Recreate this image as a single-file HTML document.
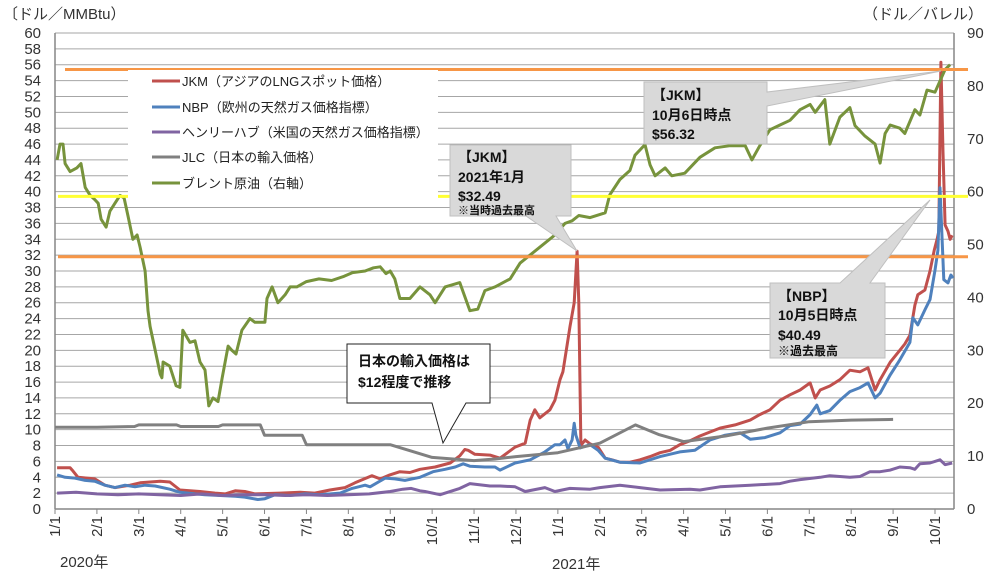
<!DOCTYPE html>
<html><head><meta charset="utf-8">
<style>
body{margin:0;background:#fff;}
svg{display:block;font-family:"Liberation Sans","Noto Sans CJK JP",sans-serif;}
</style></head>
<body>
<svg id="chart" width="995" height="574" viewBox="0 0 995 574">
<g id="grid"></g>
<g id="axes"></g>
<g id="series"></g>
<g id="overlay"></g>
</svg>
<script>
// ---- data (x in months since 2020-01-01) ----
const monthLabels = ["1/1","2/1","3/1","4/1","5/1","6/1","7/1","8/1","9/1","10/1","11/1","12/1","1/1","2/1","3/1","4/1","5/1","6/1","7/1","8/1","9/1","10/1"];
const leftTicks = [0,2,4,6,8,10,12,14,16,18,20,22,24,26,28,30,32,34,36,38,40,42,44,46,48,50,52,54,56,58,60];
const rightTicks = [0,10,20,30,40,50,60,70,80,90];

const jkmX = [0.05,0.36,0.41,0.55,0.95,1.19,1.43,1.79,2.03,2.51,2.74,2.98,3.46,3.82,4.06,4.30,4.53,4.77,5.37,5.85,6.20,6.56,6.92,7.16,7.56,7.76,7.99,8.23,8.47,8.71,9.07,9.43,9.66,9.78,9.86,10.02,10.38,10.62,10.98,11.22,11.34,11.45,11.57,11.81,11.93,12.05,12.12,12.24,12.29,12.39,12.46,12.50,12.55,12.65,12.77,12.96,13.13,13.29,13.48,13.72,13.96,14.20,14.44,14.68,14.91,15.15,15.39,15.63,15.87,16.23,16.59,16.82,17.06,17.30,17.54,17.78,18.02,18.14,18.26,18.49,18.73,18.97,19.21,19.40,19.57,19.69,19.93,20.16,20.28,20.40,20.52,20.59,20.76,20.88,20.98,21.05,21.09,21.14,21.19,21.24,21.31,21.36,21.41];
const jkmVals = [5.2,5.2,4.9,4.0,3.8,3.0,2.7,3.0,3.3,3.5,3.4,2.4,2.2,2.0,1.9,2.3,2.2,1.9,2.0,2.1,2.0,2.4,2.7,3.3,4.2,3.8,4.3,4.7,4.6,5.0,5.3,5.8,6.7,7.5,7.4,6.9,6.8,6.4,7.8,8.3,11.2,12.5,11.5,12.5,13.7,16.3,17.3,21.3,23,26,32.49,26,8.0,8.7,8.2,7.8,6.4,6.2,5.9,5.9,6.2,6.6,7.1,7.4,8.1,8.6,9.2,9.7,10.2,10.6,11.2,11.9,12.5,13.7,14.4,15.0,15.9,14.0,15.0,15.5,16.3,17.5,17.3,17.8,15.0,16.3,18.5,20.0,20.8,21.9,25.7,27.0,27.6,30.0,32.6,34.0,35.0,56.32,45.0,35.8,35.0,34.0,34.5];

const nbpX = [0.05,0.24,0.48,0.72,0.95,1.19,1.43,1.67,1.91,2.15,2.39,2.74,2.98,3.34,3.58,3.94,4.30,4.53,4.84,5.01,5.25,5.61,5.97,6.32,6.80,7.09,7.40,7.52,7.88,8.11,8.35,8.71,9.02,9.31,9.55,9.74,9.90,10.26,10.50,10.62,10.98,11.34,11.69,11.93,12.05,12.17,12.24,12.34,12.39,12.43,12.53,12.77,12.96,13.13,13.48,13.96,14.44,14.91,15.27,15.63,15.99,16.35,16.59,16.94,17.30,17.54,17.78,18.02,18.18,18.26,18.49,18.73,18.97,19.21,19.40,19.57,19.69,19.93,20.16,20.40,20.47,20.59,20.76,20.88,21.0,21.07,21.12,21.17,21.21,21.31,21.38,21.43];
const nbpVals = [4.3,4.0,3.9,3.6,3.5,3.0,2.7,3.0,2.8,3.0,2.9,2.5,2.1,1.9,1.8,1.7,1.6,1.5,1.2,1.3,1.8,1.7,1.9,1.8,2.0,2.6,3.0,2.8,3.9,3.8,3.6,4.0,4.7,5.0,5.3,5.7,5.4,5.3,5.3,4.9,5.8,6.2,7.2,8.1,8.1,8.7,7.6,8.7,10.8,9.3,7.7,8.1,7.4,6.4,5.9,5.8,6.6,7.2,7.4,8.7,9.3,9.6,8.8,9.0,9.6,10.5,10.7,11.9,13.1,12.0,12.4,13.7,14.8,15.3,15.9,14.0,14.6,16.9,18.8,21.0,24.1,23.2,25.1,26.4,30.1,32.6,40.49,34.0,28.9,28.5,29.5,29.1];

const hhX = [0.05,0.5,1.0,1.5,2.0,2.5,3.0,3.5,4.0,4.5,5.0,5.5,6.0,6.5,7.0,7.5,8.0,8.3,8.5,8.71,8.83,9.19,9.66,9.90,10.38,10.62,10.98,11.22,11.69,11.93,12.29,12.77,13.0,13.48,13.96,14.44,15.15,15.39,15.87,16.59,17.30,17.54,17.78,18.26,18.49,18.97,19.21,19.45,19.69,19.93,20.16,20.40,20.52,20.64,20.88,21.12,21.24,21.41];
const hhVals = [2.0,2.1,1.9,1.8,1.9,1.8,1.7,1.9,1.7,1.8,1.8,1.7,1.8,1.7,1.8,1.9,2.2,2.5,2.6,2.3,2.2,1.8,2.6,3.2,2.9,2.9,2.8,2.2,2.7,2.2,2.6,2.5,2.7,3.0,2.7,2.4,2.5,2.4,2.8,3.0,3.2,3.5,3.7,4.0,4.2,4.0,4.1,4.7,4.7,4.9,5.3,5.2,5.0,5.7,5.8,6.2,5.6,5.8];

const jlcX = [0,1.0,1.9,2.0,2.9,3.0,3.9,4.0,4.9,5.0,5.9,6.0,6.9,7.0,7.5,8.0,8.5,9.0,9.5,10.0,10.5,11.0,12.0,13.0,13.85,14.4,15.0,16.0,17.0,18.0,19.0,20.0];
const jlcVals = [10.3,10.3,10.4,10.6,10.6,10.4,10.4,10.6,10.6,9.3,9.3,8.1,8.1,8.1,8.1,8.1,7.3,6.5,6.3,6.1,6.3,6.6,7.1,8.3,10.6,9.4,8.5,9.2,10.2,11.0,11.2,11.3];

const brentX = [0.05,0.12,0.19,0.24,0.36,0.52,0.62,0.72,0.84,0.95,1.03,1.10,1.22,1.31,1.43,1.55,1.65,1.74,1.86,1.96,2.03,2.15,2.22,2.27,2.39,2.51,2.55,2.58,2.74,2.89,2.98,3.05,3.22,3.34,3.46,3.58,3.67,3.77,3.89,3.99,4.13,4.22,4.32,4.46,4.65,4.77,4.84,5.01,5.06,5.18,5.32,5.49,5.61,5.77,6.0,6.3,6.6,6.9,7.1,7.4,7.6,7.76,7.9,8.0,8.11,8.23,8.47,8.71,8.95,9.07,9.31,9.66,9.90,10.09,10.26,10.50,10.86,11.10,11.57,11.93,12.17,12.34,12.5,12.77,13.13,13.24,13.48,13.72,13.84,14.08,14.20,14.32,14.56,14.72,15.03,15.39,15.75,16.11,16.47,16.63,16.82,17.06,17.30,17.54,17.78,18.02,18.14,18.37,18.49,18.73,18.97,19.09,19.33,19.57,19.69,19.81,19.93,20.16,20.28,20.52,20.64,20.81,21.0,21.24,21.36];
const brentVals = [66,69,69,65.3,63.8,64.5,65.3,60.8,59.3,58.5,57.8,54.8,53.3,56.3,57.8,59.3,58.8,55.5,51,51.8,49.5,45,37.5,34.5,30,25.5,24.8,27.8,27,23.3,23,33.8,31.5,31.8,27.8,26.3,19.5,21,20.3,24.8,30.8,30,29.3,33.8,36,35.3,35.3,35.3,39.8,42,39,40.5,42,42,43,43.5,43.2,44,44.7,45,45.6,45.8,44.5,45,43.5,39.8,39.8,42,40.5,39,42,42.8,37.5,37.8,41.3,42,43.5,46.5,49.5,51.8,54,54.5,55.5,55.1,56,59.4,62.3,64,66.9,68.9,65.1,63,64.5,63,63.5,66.5,68.3,68.7,68.7,66,68.7,71.7,72.6,73.5,75.5,76.5,75,77.4,69,74.1,75.9,72.5,70.5,69,65.4,71,72.6,72,71,75.5,74.5,79.2,78.8,83.1,84];

const refLevels = [55.4, 39.4, 31.8];

// ---- axes functions ----
const X0=55, X1=954, Y0=509, Y1=33, MW=880/21;
const xs = m => X0 + m*MW;
const yL = v => Y0 - v*(Y0-Y1)/60;
const yR = v => Y0 - v*(Y0-Y1)/90;
const NS="http://www.w3.org/2000/svg";
function mk(tag, attrs, parent){const e=document.createElementNS(NS,tag);for(const k in attrs)e.setAttribute(k,attrs[k]);parent.appendChild(e);return e;}

const grid=document.getElementById('grid'), axes=document.getElementById('axes'), ser=document.getElementById('series'), ov=document.getElementById('overlay');

leftTicks.forEach(v=>{
  const l=mk('line',{x1:X0,x2:X1,y1:yL(v),y2:yL(v),stroke:'#a6a6a6','stroke-width':1},grid);
  
  
  const t=mk('text',{x:41,y:yL(v)+5,'text-anchor':'end','font-size':15,fill:'#333'},axes);
  t.textContent=v;
  
  
});
rightTicks.forEach(v=>{
  const t=mk('text',{x:967,y:yR(v)+5,'font-size':15,fill:'#333'},axes);
  t.textContent=v;
  
  
});
mk('line',{x1:X0,x2:X0,y1:Y1,y2:Y0,stroke:'#868686','stroke-width':1.5},axes);
mk('line',{x1:X1,x2:X1,y1:Y1,y2:Y0,stroke:'#868686','stroke-width':1.5},axes);
mk('line',{x1:X0,x2:X1,y1:Y0,y2:Y0,stroke:'#868686','stroke-width':1.5},axes);
monthLabels.forEach((s,i)=>{
  const x=xs(i);
  mk('line',{x1:x,x2:x,y1:Y0,y2:Y0+5,stroke:'#868686','stroke-width':1},axes);
  const t=mk('text',{x:0,y:0,'font-size':15,fill:'#333','text-anchor':'end',transform:`translate(${x+5},${516}) rotate(-90)`},axes);
  t.textContent=s;
  
  
});

function line(xa,va,yf,color,name,w){
  const d=xa.map((m,i)=>(i?'L':'M')+xs(m).toFixed(1)+','+yf(va[i]).toFixed(1)).join('');
  const p=mk('path',{d:d,fill:'none',stroke:color,'stroke-width':w||3,'stroke-linejoin':'round'},ser);
  
  
}
line(jkmX,jkmVals,yL,'#c0504d','jkm-line');
line(nbpX,nbpVals,yL,'#4f81bd','nbp-line');
line(hhX,hhVals,yL,'#8064a2','henry-hub-line');
line(jlcX,jlcVals,yL,'#808080','jlc-line');
line(brentX,brentVals,yR,'#77933c','brent-line');

const refColors=['#f79646','#ffff33','#f79646'];
const refStart=[65,58,58];
refLevels.forEach((v,i)=>{
  const l=mk('line',{x1:refStart[i],x2:968,y1:yL(v),y2:yL(v),stroke:refColors[i],'stroke-width':3},ov);
  
  
});
</script>
<svg width="995" height="574" style="position:absolute;left:0;top:0;font-family:'Liberation Sans','Noto Sans CJK JP',sans-serif">
  <text x="3" y="19" font-size="15" fill="#333">〔ドル／MMBtu）</text>
  <text x="863" y="19" font-size="15" fill="#333">（ドル／バレル）</text>
  <text x="60" y="567" font-size="15" fill="#333">2020年</text>
  <text x="552" y="569" font-size="15" fill="#333">2021年</text>
  <g>
    <rect x="128" y="70" width="310" height="130" fill="#fff"/>
    <g font-size="13" fill="#222">
      <line x1="152" y1="81" x2="180" y2="81" stroke="#c0504d" stroke-width="3"/><text x="182" y="86">JKM（アジアのLNGスポット価格）</text>
      <line x1="152" y1="107" x2="180" y2="107" stroke="#4f81bd" stroke-width="3"/><text x="182" y="112">NBP（欧州の天然ガス価格指標）</text>
      <line x1="152" y1="132" x2="180" y2="132" stroke="#8064a2" stroke-width="3"/><text x="182" y="137">ヘンリーハブ（米国の天然ガス価格指標）</text>
      <line x1="152" y1="157" x2="180" y2="157" stroke="#808080" stroke-width="3"/><text x="182" y="162">JLC（日本の輸入価格）</text>
      <line x1="152" y1="183" x2="180" y2="183" stroke="#77933c" stroke-width="3"/><text x="182" y="188">ブレント原油（右軸）</text>
    </g>
  </g>
  <g>
    <polygon points="450,145 571,145 571,216 556,216 577,251 526,216 450,216" fill="#d9d9d9" stroke="#bfbfbf"/>
    <g font-weight="bold" fill="#111"><text x="458" y="162" font-size="14">【JKM】</text><text x="458" y="182" font-size="14">2021年1月</text><text x="458" y="201" font-size="14">$32.49</text><text x="458" y="214" font-size="11">※当時過去最高</text></g>
  </g>
  <g>
    <polygon points="644,82 767,82 767,92 941,71 767,106 767,144 644,144" fill="#d9d9d9" stroke="#bfbfbf"/>
    <g font-weight="bold" fill="#111" font-size="14"><text x="652" y="100">【JKM】</text><text x="652" y="120">10月6日時点</text><text x="652" y="139">$56.32</text></g>
  </g>
  <g>
    <polygon points="770,283 840,283 930,200 870,283 885,283 885,358 770,358" fill="#d9d9d9" stroke="#bfbfbf"/>
    <g font-weight="bold" fill="#111"><text x="778" y="301" font-size="14">【NBP】</text><text x="778" y="320" font-size="14">10月5日時点</text><text x="778" y="340" font-size="14">$40.49</text><text x="778" y="355" font-size="12">※過去最高</text></g>
  </g>
  <g>
    <polygon points="347,344 490,344 490,403 466,403 443,443 432,403 347,403" fill="#fff" stroke="#222"/>
    <g font-weight="bold" fill="#111" font-size="14"><text x="358" y="366">日本の輸入価格は</text><text x="358" y="387">$12程度で推移</text></g>
  </g>
</svg>
</body></html>
